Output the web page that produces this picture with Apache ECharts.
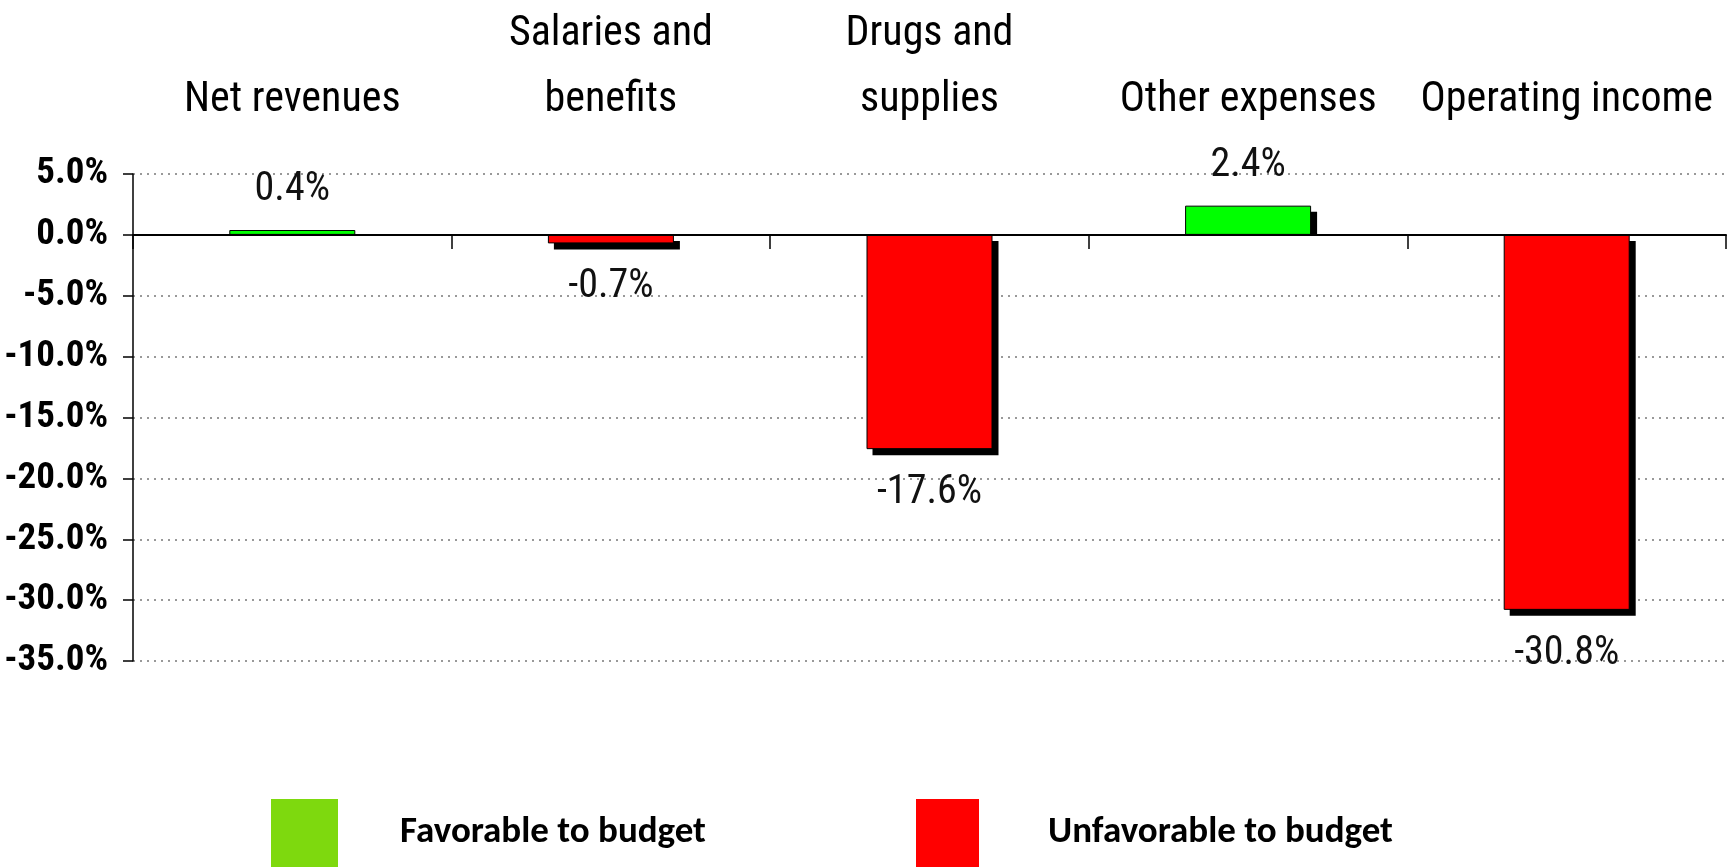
<!DOCTYPE html>
<html>
<head>
<meta charset="utf-8">
<script src="https://cdn.jsdelivr.net/npm/echarts@6/dist/echarts.min.js"></script>
<style>
html,body{margin:0;padding:0;background:#fff;}
#chart{width:1733px;height:868px;}
</style>
</head>
<body>
<div id="chart"></div>
<script>
const categories = ['Net revenues', 'Salaries and\nbenefits', 'Drugs and\nsupplies', 'Other expenses', 'Operating income'];
const values = [0.4, -0.7, -17.6, 2.4, -30.8];
const favorableFlags = [true, false, false, true, false];
const legendNames = ['Favorable to budget', 'Unfavorable to budget'];

const favorableData = values.map((v, i) => favorableFlags[i] ? v : '-');
const unfavorableData = values.map((v, i) => favorableFlags[i] ? '-' : v);
const shadowData = values.map((v, i) => [i, v]);

const COND = '"Roboto Condensed", "Liberation Sans", sans-serif';
const BAR_W = 126;
const SHADOW = 6;

const labelCommon = {
  show: true,
  fontFamily: COND,
  fontSize: 40,
  color: '#111',
  formatter: p => p.value.toFixed(1) + '%'
};

function barStyle(color) {
  return {color: color, borderColor: '#000', borderWidth: 1};
}

const chart = echarts.init(document.getElementById('chart'), null, {renderer: 'canvas'});
chart.setOption({
  animation: false,
  backgroundColor: '#fff',
  grid: {left: 133, right: 7, top: 174, bottom: 207, containLabel: false},
  legend: [
    {
      data: [{name: legendNames[0], itemStyle: {color: '#7ED90E', borderWidth: 0}}],
      left: 271, top: 799, padding: 0,
      itemWidth: 67, itemHeight: 68,
      icon: 'rect',
      selectedMode: false,
      textStyle: {fontFamily: 'Carlito, Calibri, sans-serif', fontWeight: 'bold', fontSize: 37, color: '#000', padding: [0, 0, 0, 57]}
    },
    {
      data: [{name: legendNames[1], itemStyle: {color: '#FF0000', borderWidth: 0}}],
      left: 916, top: 799, padding: 0,
      itemWidth: 63, itemHeight: 68,
      icon: 'rect',
      selectedMode: false,
      textStyle: {fontFamily: 'Carlito, Calibri, sans-serif', fontWeight: 'bold', fontSize: 37, color: '#000', padding: [0, 0, 0, 64]}
    }
  ],
  xAxis: [
    {
      type: 'category',
      data: categories,
      position: 'bottom',
      axisLine: {onZero: true, lineStyle: {color: '#000', width: 2}},
      axisTick: {show: true, length: 14, alignWithLabel: false, lineStyle: {color: '#000', width: 1.5}},
      axisLabel: {show: false},
      splitLine: {show: false},
      z: 10
    },
    {
      type: 'category',
      data: categories,
      position: 'top',
      axisLine: {show: false, onZero: false},
      axisTick: {show: false},
      axisLabel: {
        show: true,
        interval: 0,
        margin: 41,
        fontFamily: COND,
        fontSize: 42,
        lineHeight: 66,
        color: '#000'
      }
    }
  ],
  yAxis: {
    type: 'value',
    min: -35,
    max: 5,
    interval: 5,
    axisLine: {show: true, lineStyle: {color: '#000', width: 1.5}},
    axisTick: {show: true, length: 10, lineStyle: {color: '#000', width: 1.5}},
    axisLabel: {
      margin: 25,
      fontFamily: COND,
      fontWeight: 'bold',
      fontSize: 37,
      color: '#000',
      formatter: v => v.toFixed(1) + '%'
    },
    splitLine: {show: true, lineStyle: {color: '#999', width: 2, type: [2, 5]}}
  },
  series: [
    {
      name: 'shadow',
      type: 'custom',
      xAxisIndex: 0,
      yAxisIndex: 0,
      z: 1,
      silent: true,
      data: shadowData,
      renderItem: function (params, api) {
        const idx = api.value(0);
        const v = api.value(1);
        const pTop = api.coord([idx, Math.max(v, 0)]);
        const pBot = api.coord([idx, Math.min(v, 0)]);
        const x = pTop[0] - BAR_W / 2 + SHADOW;
        const y0 = pTop[1] + SHADOW;
        const y1 = v >= 0 ? pBot[1] : pBot[1] + SHADOW;
        return {
          type: 'rect',
          shape: {x: x, y: y0, width: BAR_W, height: Math.max(0, y1 - y0)},
          style: {fill: '#000'}
        };
      }
    },
    {
      name: legendNames[0],
      type: 'bar',
      stack: 'v',
      z: 3,
      barWidth: BAR_W,
      data: favorableData,
      itemStyle: barStyle('#00FF00'),
      label: Object.assign({position: 'top', distance: 20}, labelCommon)
    },
    {
      name: legendNames[1],
      type: 'bar',
      stack: 'v',
      z: 3,
      barWidth: BAR_W,
      data: unfavorableData,
      itemStyle: barStyle('#FF0000'),
      label: Object.assign({position: 'bottom', distance: 24}, labelCommon)
    }
  ]
});
</script>
</body>
</html>
